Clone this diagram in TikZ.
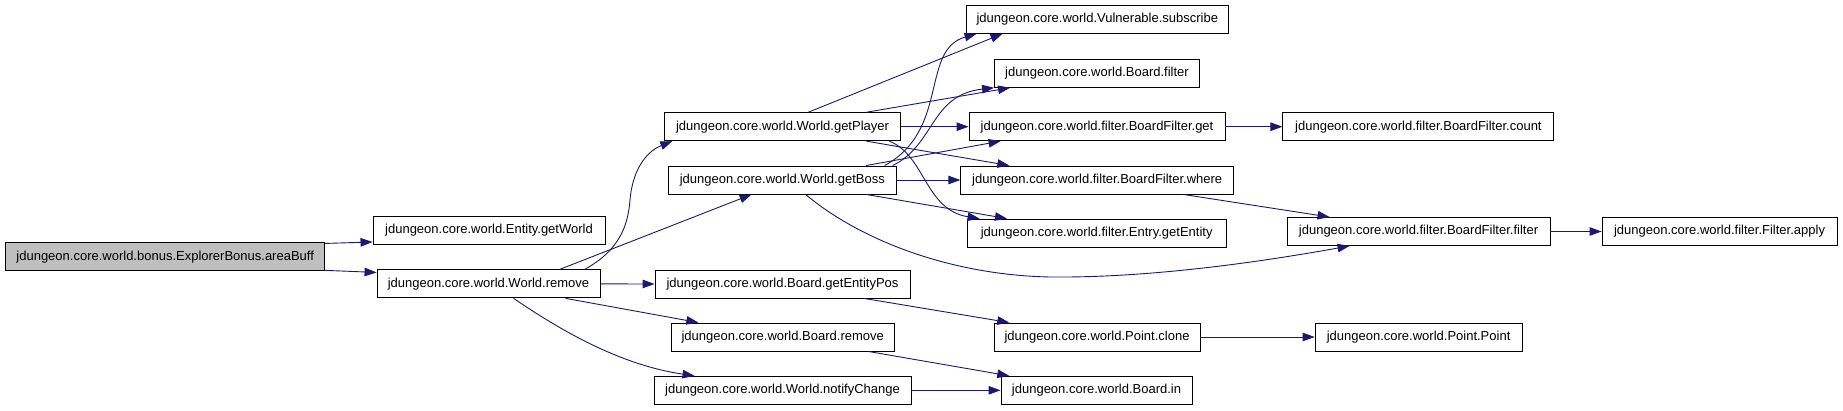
\documentclass[tikz,border=0pt]{standalone}
\usepackage{fontspec}
\setmainfont{Liberation Sans}
\usetikzlibrary{arrows.meta}
\definecolor{edgeblue}{HTML}{191970}
\definecolor{rootgray}{HTML}{BFBFBF}
\begin{document}
\begin{tikzpicture}[x=1pt,y=-1pt,
  box/.style={draw=black, line width=0.9pt, fill=white, minimum height=28pt, inner sep=0pt,
              font=\fontsize{13}{15}\selectfont},
  e/.style={draw=edgeblue, line width=0.9pt, -{Triangle[length=12pt,width=8.5pt]}, fill=none}]
\useasboundingbox (0,0) rectangle (1843,411);
% column 1
\node[box, fill=rootgray, minimum width=318.8pt] (areaBuff) at (165.2,256.9) {jdungeon.core.world.bonus.ExplorerBonus.areaBuff};
% column 2
\node[box, minimum width=232pt] (getWorld) at (489,230.5) {jdungeon.core.world.Entity.getWorld};
\node[box, minimum width=223pt] (remove) at (488.5,283.9) {jdungeon.core.world.World.remove};
% column 3
\node[box, minimum width=235.5pt] (getPlayer) at (782.5,126.7) {jdungeon.core.world.World.getPlayer};
\node[box, minimum width=227.5pt] (getBoss) at (782.3,180) {jdungeon.core.world.World.getBoss};
\node[box, minimum width=255pt] (getEntityPos) at (782.5,284) {jdungeon.core.world.Board.getEntityPos};
\node[box, minimum width=222.6pt] (boardRemove) at (782.7,337) {jdungeon.core.world.Board.remove};
\node[box, minimum width=257pt] (notifyChange) at (782.5,390.3) {jdungeon.core.world.World.notifyChange};
% column 4
\node[box, minimum width=262.6pt] (subscribe) at (1097.3,19.3) {jdungeon.core.world.Vulnerable.subscribe};
\node[box, minimum width=205pt] (boardFilter) at (1097,73.3) {jdungeon.core.world.Board.filter};
\node[box, minimum width=256pt] (bfGet) at (1097,126.7) {jdungeon.core.world.filter.BoardFilter.get};
\node[box, minimum width=272.8pt] (bfWhere) at (1097.2,180) {jdungeon.core.world.filter.BoardFilter.where};
\node[box, minimum width=258.6pt] (getEntity) at (1096.7,233) {jdungeon.core.world.filter.Entry.getEntity};
\node[box, minimum width=206pt] (pointClone) at (1097,337) {jdungeon.core.world.Point.clone};
\node[box, minimum width=191pt] (boardIn) at (1096.5,390.3) {jdungeon.core.world.Board.in};
% column 5
\node[box, minimum width=271pt] (bfCount) at (1418.4,126.7) {jdungeon.core.world.filter.BoardFilter.count};
\node[box, minimum width=263pt] (bfFilter) at (1418.5,231.5) {jdungeon.core.world.filter.BoardFilter.filter};
\node[box, minimum width=207pt] (pointPoint) at (1418.6,337) {jdungeon.core.world.Point.Point};
% column 6
\node[box, minimum width=235pt] (filterApply) at (1719.5,231.5) {jdungeon.core.world.filter.Filter.apply};

% edges
\draw[e] ([yshift=-1pt]areaBuff.north east) -- ([yshift=3pt]getWorld.south west);
\draw[e] ([yshift=1pt]areaBuff.south east) -- ([yshift=-3pt]remove.north west);

\draw[e] ([xshift=208pt]remove.north west) .. controls (620,250) and (628,225) .. (630,200)
   .. controls (633,165) and (650,150) .. ([xshift=8pt]getPlayer.south west);
\draw[e] ([xshift=183pt]remove.north west) -- ([xshift=83.5pt]getBoss.south west);
\draw[e] (remove.east) -- (getEntityPos.west);
\draw[e] ([xshift=189pt]remove.south west) -- ([xshift=27.4pt]boardRemove.north west);
\draw[e] ([xshift=137pt]remove.south west) .. controls (560,330) and (620,365) .. ([xshift=41pt]notifyChange.north west);

\draw[e] ([xshift=144pt]getPlayer.north west) -- ([xshift=37pt]subscribe.south west);
\draw[e] ([xshift=202pt]getPlayer.north west) -- ([xshift=16pt]boardFilter.south west);
\draw[e] (getPlayer.east) -- (bfGet.west);
\draw[e] ([xshift=202pt]getPlayer.south west) -- ([xshift=49pt]bfWhere.north west);
\draw[e] ([xshift=225pt]getPlayer.south west) .. controls (925,155) and (925,210) .. ([xshift=12.6pt]getEntity.north west);

\draw[e] ([xshift=216.5pt]getBoss.north west) .. controls (950,130) and (920,50) .. ([xshift=11pt]subscribe.south west);
\draw[e] ([xshift=224.5pt]getBoss.north west) .. controls (935,145) and (930,95) .. (boardFilter.south west);
\draw[e] ([xshift=198pt]getBoss.north west) -- ([xshift=32pt]bfGet.south west);
\draw[e] (getBoss.east) -- (bfWhere.west);
\draw[e] ([xshift=198pt]getBoss.south west) -- ([xshift=40pt]getEntity.north west);
\draw[e] ([xshift=137.5pt]getBoss.south west) .. controls (860,240) and (950,275) .. (1050,277)
   .. controls (1150,278) and (1260,262) .. ([xshift=63pt]bfFilter.south west);

\draw[e] (bfGet.east) -- (bfCount.west);
\draw[e] ([xshift=223pt]bfWhere.south west) -- ([xshift=43pt]bfFilter.north west);
\draw[e] (bfFilter.east) -- (filterApply.west);
\draw[e] ([xshift=209.6pt]getEntityPos.south west) -- ([xshift=15.7pt]pointClone.north west);
\draw[e] (pointClone.east) -- (pointPoint.west);
\draw[e] ([xshift=197.4pt]boardRemove.south west) -- ([xshift=8.7pt]boardIn.north west);
\draw[e] (notifyChange.east) -- (boardIn.west);
\end{tikzpicture}
\end{document}
